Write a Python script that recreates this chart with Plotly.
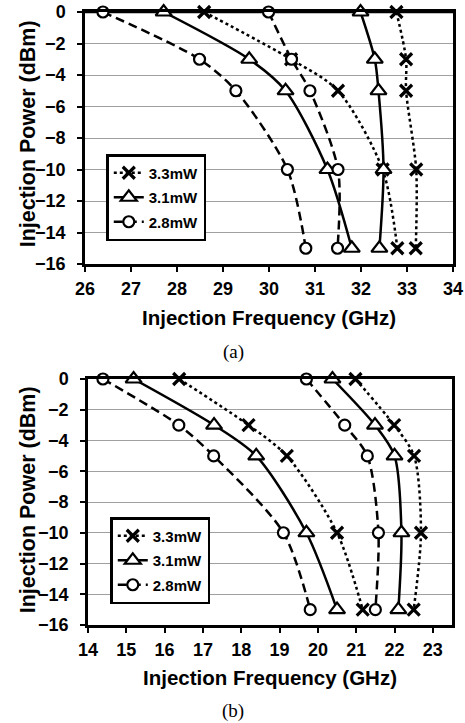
import plotly.graph_objects as go

# ---------------- data ----------------
powers = [0, -3, -5, -10, -15]
series_names = ["3.3mW", "3.1mW", "2.8mW"]

# panel (a): two branches per series (low / high frequency edge)
a_33_low = [28.59, 30.48, 31.50, 32.47, 32.79]
a_33_high = [32.77, 32.98, 32.98, 33.20, 33.19]
a_31_low = [27.71, 29.57, 30.36, 31.27, 31.80]
a_31_high = [31.99, 32.30, 32.38, 32.49, 32.40]
a_28_low = [26.39, 28.49, 29.28, 30.40, 30.80]
a_28_high = [29.99, 30.49, 30.89, 31.50, 31.49]

# panel (b)
b_33_low = [16.38, 18.19, 19.19, 20.50, 21.17]
b_33_high = [20.98, 21.99, 22.51, 22.69, 22.50]
b_31_low = [15.19, 17.29, 18.39, 19.70, 20.50]
b_31_high = [20.38, 21.49, 22.00, 22.18, 22.10]
b_28_low = [14.39, 16.37, 17.28, 19.10, 19.80]
b_28_high = [19.70, 20.70, 21.29, 21.58, 21.50]

y_ticks = [0, -2, -4, -6, -8, -10, -12, -14, -16]
a_x_ticks = [26, 27, 28, 29, 30, 31, 32, 33, 34]
b_x_ticks = [14, 15, 16, 17, 18, 19, 20, 21, 22, 23]

# ---------------- styles ----------------
FONT = "Liberation Sans, Arial, sans-serif"
SERIF = "Liberation Serif, Times New Roman, serif"
styles = {
    "3.3mW": dict(dash="dot", symbol="x-thin-open", size=12, mlw=3.2),
    "3.1mW": dict(dash="solid", symbol="triangle-up", size=14, mlw=2.2),
    "2.8mW": dict(dash="9px,5px", symbol="circle", size=11, mlw=2.2),
}

fig = go.Figure()

panels = [
    ("x", "y", "legend", {"3.3mW": (a_33_low, a_33_high),
                          "3.1mW": (a_31_low, a_31_high),
                          "2.8mW": (a_28_low, a_28_high)}),
    ("x2", "y2", "legend2", {"3.3mW": (b_33_low, b_33_high),
                             "3.1mW": (b_31_low, b_31_high),
                             "2.8mW": (b_28_low, b_28_high)}),
]

for xa, ya, leg, data in panels:
    for name in series_names:
        st = styles[name]
        for i, branch in enumerate(data[name]):
            fig.add_trace(go.Scatter(
                x=branch, y=powers, xaxis=xa, yaxis=ya,
                mode="lines+markers", name=name,
                legend=leg, legendgroup=leg + name, showlegend=(i == 0),
                line=dict(color="black", width=2.5, dash=st["dash"],
                          shape="spline", smoothing=0.8),
                marker=dict(symbol=st["symbol"], size=st["size"],
                            color="white" if "open" not in st["symbol"] else "black",
                            line=dict(color="black", width=st["mlw"])),
                cliponaxis=False, hoverinfo="skip",
            ))

# page body margin is removed below, so screen pixels == figure pixels
W, H = 465, 723
ML, MR, MT, MB = 84.7, 12, 12, 98
PW, PH = W - ML - MR, H - MT - MB


def paper_x(sx):
    return (sx - ML) / PW


def paper_y(sy):
    return (H - MB - sy) / PH


def dom_x(a, b):
    return [paper_x(a), paper_x(b)]


def dom_y(top, bottom):
    return [paper_y(bottom), paper_y(top)]


axis_common = dict(
    showline=True, linecolor="black", linewidth=2.5, mirror=True,
    ticks="outside", ticklen=5, tickwidth=1.5, tickcolor="black",
    tickfont=dict(family=FONT, size=18, color="black", weight="bold"),
    zeroline=False, automargin=False, ticklabeloverflow="allow",
)
xtitle_font = dict(family=FONT, size=20.5, color="black", weight="bold")
ytitle_font = dict(family=FONT, size=21.5, color="black", weight="bold")
legend_common = dict(
    xanchor="left", yanchor="top",
    bgcolor="white", bordercolor="black", borderwidth=2.5,
    font=dict(family=FONT, size=15, color="black", weight="bold"),
    traceorder="grouped", tracegroupgap=2, itemwidth=30,
)


def ann(text, sx, sy, font, angle=0):
    return dict(text=text, x=paper_x(sx), y=paper_y(sy), xref="paper", yref="paper",
                xanchor="center", yanchor="middle", showarrow=False,
                textangle=angle, font=font)


fig.update_layout(
    width=W, height=H,
    margin=dict(l=ML, r=MR, t=MT, b=MB, autoexpand=False),
    paper_bgcolor="white", plot_bgcolor="white",
    showlegend=True, hovermode=False,
    xaxis=dict(domain=dom_x(84.7, 453), range=[26, 34], tickvals=a_x_ticks,
               showgrid=False, anchor="y", ticklabelstandoff=2, **axis_common),
    yaxis=dict(domain=dom_y(12, 264), range=[-16, 0], tickvals=y_ticks,
               showgrid=True, gridcolor="#a0a0a0", gridwidth=1, anchor="x",
               ticklabelstandoff=8, **axis_common),
    xaxis2=dict(domain=dom_x(87.7, 452), range=[14, 23.5], tickvals=b_x_ticks,
                showgrid=False, anchor="y2", ticklabelstandoff=2, **axis_common),
    yaxis2=dict(domain=dom_y(379, 625), range=[-16, 0], tickvals=y_ticks,
                showgrid=True, gridcolor="#a0a0a0", gridwidth=1, anchor="x2",
                ticklabelstandoff=8, **axis_common),
    legend=dict(x=paper_x(106), y=paper_y(154), **legend_common),
    legend2=dict(x=paper_x(110), y=paper_y(517), **legend_common),
    # frame edge along the top of panel (a)
    shapes=[dict(type="line", xref="x domain", yref="y domain",
                 x0=0, x1=1, y0=1, y1=1, layer="below",
                 line=dict(color="black", width=2.5))],
    annotations=[
        ann("Injection Frequency (GHz)", 269, 317, xtitle_font),
        ann("Injection Power (dBm)", 28, 134, ytitle_font, -90),
        ann("Injection Frequency (GHz)", 270, 677, xtitle_font),
        ann("Injection Power (dBm)", 28, 500, ytitle_font, -90),
        ann("(a)", 233, 352, dict(family=SERIF, size=19, color="black")),
        ann("(b)", 233, 711, dict(family=SERIF, size=19, color="black")),
    ],
)

fig.write_html("out.html",
               config={"displayModeBar": False},
               post_script="document.body.style.margin='0';"
                           "document.body.style.overflow='hidden';")
